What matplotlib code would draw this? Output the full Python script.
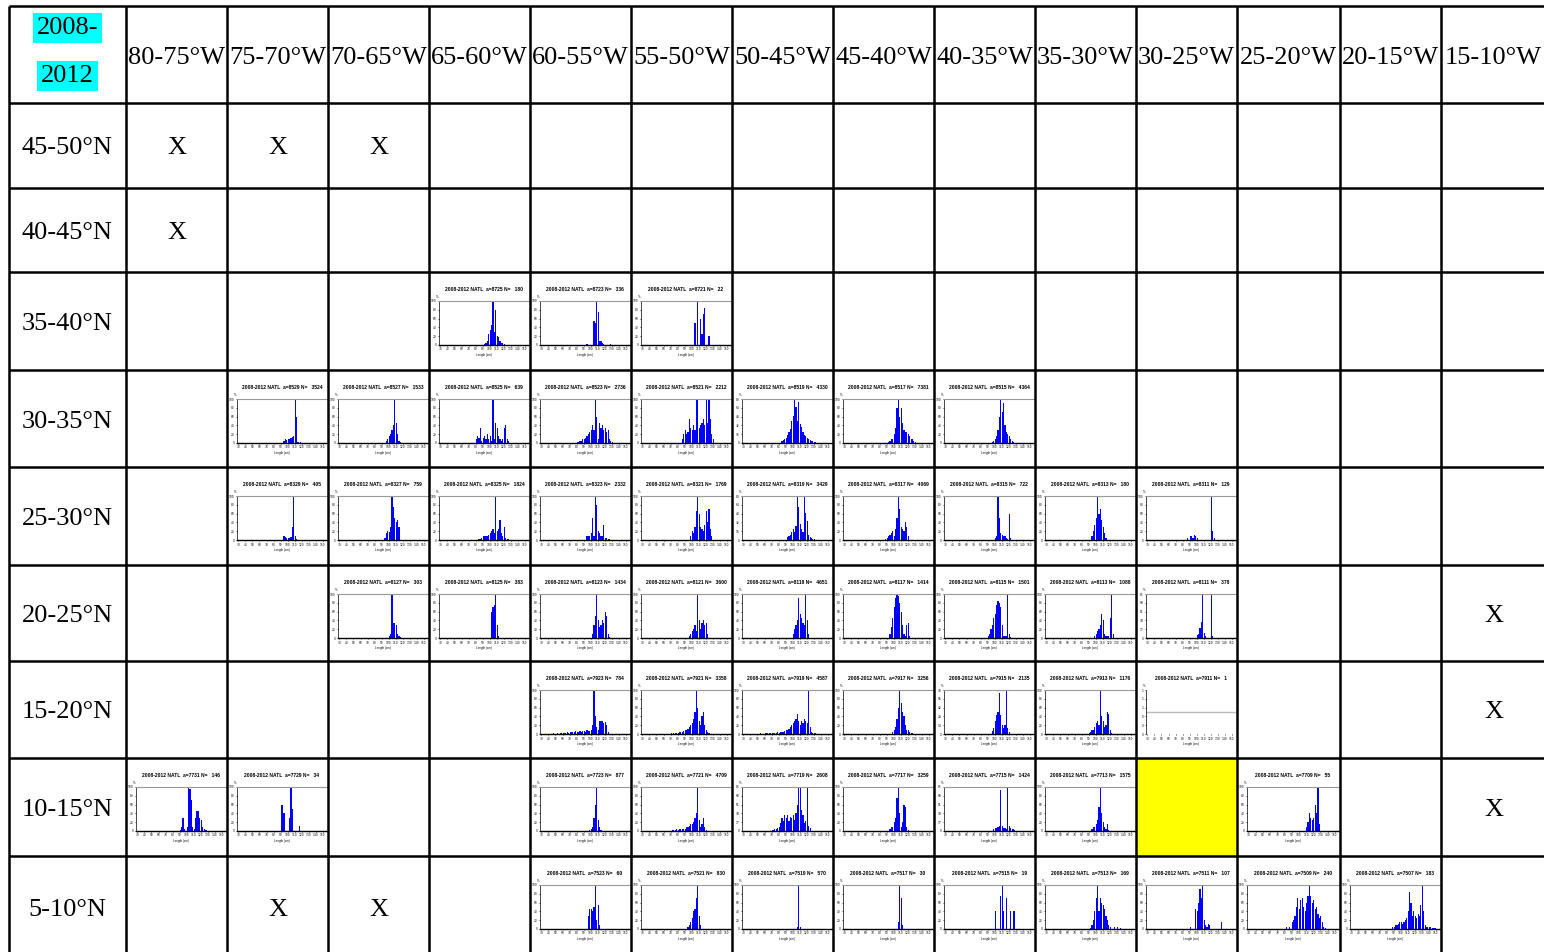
#!/usr/bin/env python3
# -*- coding: utf-8 -*-
"""
Length frequency histograms of the North Atlantic 5x5 degree squares, 2008-2012
"""
import matplotlib

matplotlib.use("Agg")
import matplotlib.pyplot as plt
from matplotlib.patches import Rectangle

W, H = 1544, 952

lon_labels = ["80-75°W", "75-70°W", "70-65°W", "65-60°W", "60-55°W", "55-50°W",
              "50-45°W", "45-40°W", "40-35°W", "35-30°W", "30-25°W", "25-20°W",
              "20-15°W", "15-10°W"]
lat_labels = ["45-50°N", "40-45°N", "35-40°N", "30-35°N", "25-30°N",
              "20-25°N", "15-20°N", "10-15°N", "5-10°N"]

# squares without data ("X") and the highlighted square
x_marks = [("45-50°N", "80-75°W"), ("45-50°N", "75-70°W"), ("45-50°N", "70-65°W"),
           ("40-45°N", "80-75°W"), ("20-25°N", "15-10°W"), ("15-20°N", "15-10°W"),
           ("10-15°N", "15-10°W"), ("5-10°N", "75-70°W"), ("5-10°N", "70-65°W")]
yellow_cells = [("10-15°N", "30-25°W")]

# histograms: lon -> (area code, N, first length class (cm), % per 2 cm class)
hist_35_40 = {
    "65-60°W": (8725, 180, 92, [3, 5, 10, 25, 35, 45, 100, 30, 80, 20, 18, 8, 5, 5, 3]),
    "60-55°W": (8723, 336, 94, [3, 0, 0, 0, 0, 55, 50, 100, 75, 10, 8, 5, 3, 0, 0, 0, 0, 2]),
    "55-50°W": (8721, 22, 104, [50, 0, 100, 0, 60, 25, 70, 85, 0, 0, 20]),
}
hist_30_35 = {
    "75-70°W": (8529, 3524, 94, [5, 8, 7, 9, 10, 12, 14, 15, 100, 60, 3, 0, 2]),
    "70-65°W": (8527, 1533, 96, [5, 10, 15, 20, 30, 40, 100, 45, 20, 5, 2]),
    "65-60°W": (8525, 639, 80, [10, 15, 12, 35, 5, 12, 15, 10, 20, 8, 15, 5, 100, 10, 45,
                                35, 15, 8, 5, 10, 35, 40, 10, 5]),
    "60-55°W": (8523, 2736, 80, [2, 3, 5, 5, 8, 10, 12, 15, 20, 25, 30, 40, 30, 100, 60,
                                 10, 45, 35, 40, 30, 35, 25, 30, 10, 5, 3]),
    "55-50°W": (8521, 2212, 86, [10, 20, 30, 20, 25, 55, 35, 30, 40, 30, 100, 100, 35, 40,
                                 45, 55, 40, 100, 45, 100, 55, 20, 10]),
    "50-45°W": (8519, 4330, 84, [3, 5, 8, 10, 15, 20, 25, 40, 50, 80, 65, 40, 75, 35, 30,
                                 20, 15, 12, 10, 8, 5, 4, 3, 2, 1]),
    "45-40°W": (8517, 7381, 92, [3, 5, 8, 10, 20, 35, 80, 100, 60, 80, 45, 30, 25, 25, 20,
                                 15, 10, 8, 5, 3]),
    "40-35°W": (8515, 4364, 96, [3, 5, 8, 15, 30, 60, 100, 70, 90, 40, 25, 20, 15, 10, 5, 3]),
}
hist_25_30 = {
    "75-70°W": (8329, 405, 94, [8, 6, 5, 5, 4, 6, 30, 100, 10, 3]),
    "70-65°W": (8327, 759, 94, [5, 15, 20, 18, 30, 100, 75, 50, 40, 45, 30]),
    "65-60°W": (8325, 1824, 84, [2, 3, 5, 8, 8, 10, 10, 12, 15, 20, 25, 15, 100, 20, 25,
                                 45, 15, 10, 30, 5, 3, 2]),
    "60-55°W": (8323, 2332, 94, [8, 10, 10, 15, 50, 10, 100, 80, 20, 15, 10, 8, 35, 5, 5, 3, 2]),
    "55-50°W": (8321, 1769, 98, [10, 20, 15, 30, 65, 100, 60, 30, 25, 20, 35, 65, 40, 70, 25, 10]),
    "50-45°W": (8319, 3429, 92, [5, 8, 10, 15, 20, 15, 25, 80, 60, 30, 20, 15, 80, 50, 35,
                                 10, 5, 3, 2, 2]),
    "45-40°W": (8317, 4069, 88, [3, 5, 8, 12, 15, 20, 10, 25, 50, 100, 70, 30, 25, 20, 40, 30, 10]),
    "40-35°W": (8315, 722, 100, [5, 8, 100, 50, 15, 12, 10, 8, 5, 3, 60, 5]),
    "35-30°W": (8313, 180, 94, [10, 20, 35, 50, 100, 60, 70, 45, 30, 15, 5]),
    "30-25°W": (8311, 129, 86, [5, 0, 8, 10, 5, 12, 8, 5, 0, 0, 0, 0, 0, 0, 0, 0, 0, 100, 20, 5]),
}
hist_20_25 = {
    "70-65°W": (8127, 303, 100, [5, 10, 100, 35, 35, 30, 10, 5, 2]),
    "65-60°W": (8125, 383, 102, [60, 70, 75, 100, 30, 5]),
    "60-55°W": (8123, 1434, 102, [10, 30, 50, 100, 40, 25, 30, 40, 35, 60, 50, 10, 3]),
    "55-50°W": (8121, 3600, 96, [5, 10, 15, 20, 30, 15, 100, 40, 20, 35, 40, 30, 35, 10]),
    "50-45°W": (8119, 4651, 100, [10, 20, 30, 40, 90, 55, 45, 35, 30, 100, 40, 10]),
    "45-40°W": (8117, 1414, 94, [10, 25, 45, 70, 90, 100, 95, 80, 60, 30, 10, 5, 30, 35, 5]),
    "40-35°W": (8115, 1501, 90, [5, 10, 20, 30, 45, 55, 75, 85, 80, 70, 30, 5, 5, 5, 100, 10, 3]),
    "35-30°W": (8113, 1088, 98, [5, 10, 15, 20, 30, 55, 40, 10, 5, 5, 5, 45, 100, 8]),
    "30-25°W": (8111, 378, 100, [5, 8, 20, 30, 85, 10, 3, 0, 0, 0, 85, 3]),
}
hist_15_20 = {
    "60-55°W": (7923, 784, 40, [1, 1, 1, 2, 1, 1, 2, 1, 2, 2, 3, 2, 3, 4, 3, 4, 5, 4, 5, 6,
                                4, 5, 6, 5, 7, 6, 5, 8, 6, 7, 10, 20, 100, 40, 15, 10, 30,
                                30, 30, 25, 28, 20, 5]),
    "55-50°W": (7921, 3358, 60, [1, 1, 1, 1, 1, 2, 1, 2, 2, 3, 3, 4, 5, 5, 6, 8, 10, 12, 15,
                                 20, 25, 35, 50, 100, 60, 30, 20, 40, 50, 20, 10, 5, 2]),
    "50-45°W": (7919, 4587, 34, [1, 1, 1, 1, 1, 1, 1, 1, 1, 1, 2, 1, 1, 2, 2, 2, 2, 2, 3, 2,
                                 3, 3, 4, 3, 4, 5, 5, 6, 8, 10, 12, 15, 20, 25, 30, 35, 45,
                                 30, 20, 30, 25, 35, 30, 25, 100, 15, 5, 3, 2, 2, 1]),
    "45-40°W": (7917, 3256, 98, [5, 10, 15, 35, 60, 100, 70, 50, 40, 20, 10, 10, 5, 3, 2, 1, 1]),
    "40-35°W": (7915, 2135, 96, [5, 10, 20, 30, 35, 65, 30, 15, 10, 15, 70, 10, 3]),
    "35-30°W": (7913, 1176, 90, [3, 5, 8, 10, 15, 25, 30, 20, 100, 40, 30, 15, 20, 50, 45, 10, 3]),
    "30-25°W": (7911, 1, 100, []),
}
hist_10_15 = {
    "80-75°W": (7731, 146, 90, [3, 8, 30, 5, 0, 10, 100, 95, 70, 10, 5, 30, 45, 45, 30, 25,
                                10, 5, 3, 3]),
    "75-70°W": (7729, 34, 90, [60, 60, 40, 0, 0, 0, 30, 100, 50, 0, 0, 0, 0, 12]),
    "60-55°W": (7723, 877, 98, [3, 5, 10, 30, 60, 100, 25, 8, 3]),
    "55-50°W": (7721, 4709, 72, [2, 3, 3, 4, 3, 4, 5, 4, 5, 5, 8, 10, 12, 15, 15, 20, 30, 40,
                                 100, 25, 10, 15, 30, 8, 3]),
    "50-45°W": (7719, 2608, 70, [2, 2, 3, 3, 5, 8, 15, 25, 20, 30, 25, 30, 20, 28, 25, 30, 22,
                                 35, 50, 85, 85, 40, 30, 15, 20, 85, 10, 5]),
    "45-40°W": (7717, 3259, 94, [5, 8, 10, 20, 30, 75, 100, 40, 10, 20, 60, 55, 10, 3]),
    "40-35°W": (7715, 1424, 98, [3, 5, 5, 8, 10, 80, 10, 5, 5, 3, 85, 10, 5, 3, 3, 2]),
    "35-30°W": (7713, 1575, 94, [5, 8, 10, 15, 25, 55, 100, 40, 20, 10, 5, 15, 3]),
    "25-20°W": (7709, 55, 110, [10, 20, 40, 30, 25, 30, 60, 40, 100, 15]),
}
hist_5_10 = {
    "60-55°W": (7523, 60, 96, [30, 45, 45, 40, 50, 100, 20, 55, 10]),
    "55-50°W": (7521, 830, 94, [5, 10, 15, 25, 40, 45, 70, 100, 30, 10]),
    "50-45°W": (7519, 570, 106, [5, 100, 5]),
    "45-40°W": (7517, 30, 106, [15, 100, 70, 10]),
    "40-35°W": (7515, 19, 100, [40, 0, 0, 0, 75, 100, 40, 0, 70, 0, 0, 40, 0, 40, 40]),
    "35-30°W": (7513, 169, 92, [3, 10, 20, 40, 70, 100, 40, 70, 60, 55, 45, 30, 20, 10, 5,
                                0, 0, 5, 0, 5, 0, 3]),
    "30-25°W": (7511, 107, 90, [5, 0, 0, 0, 45, 40, 60, 90, 70, 100, 20, 10, 5, 12, 8, 0, 0,
                                0, 0, 0, 0, 0, 15]),
    "25-20°W": (7509, 240, 82, [5, 0, 5, 0, 15, 20, 30, 50, 70, 45, 65, 70, 50, 40, 60, 75,
                                100, 75, 60, 65, 45, 50, 35, 25, 30, 15, 5, 2, 1, 1]),
    "20-15°W": (7507, 183, 88, [5, 5, 8, 10, 12, 15, 15, 12, 15, 20, 25, 40, 85, 60, 30, 40,
                                30, 25, 35, 30, 55, 100, 40, 10, 5, 5, 5, 5, 3, 2, 2, 1]),
}
histograms = {"35-40°N": hist_35_40, "30-35°N": hist_30_35, "25-30°N": hist_25_30,
              "20-25°N": hist_20_25, "15-20°N": hist_15_20, "10-15°N": hist_10_15,
              "5-10°N": hist_5_10}

# table grid in pixels (the right and bottom edges fall outside the picture)
col_edges = [9, 126, 227, 328, 429, 530, 631, 732, 833, 934, 1035, 1136, 1237, 1340, 1441, 1546]
row_edges = [6, 103, 188, 272, 370, 467, 565, 661, 758, 856, 958]

SERIF = "Liberation Serif"
SANS = "Liberation Sans"
TXT_DY = 3  # digits have no descenders, so push the labels down a little


def cell(lat, lon):
    r = lat_labels.index(lat) + 1
    c = lon_labels.index(lon) + 1
    return col_edges[c], col_edges[c + 1], row_edges[r], row_edges[r + 1]


def draw_hist(fig, lat, lon, code, n, start, values):
    x0, x1, y0, y1 = cell(lat, lon)
    ax = fig.add_axes([(x0 + 10) / W, 1 - (y0 + 73) / H, (x1 - x0 - 11) / W, 44 / H])
    lengths = [start + 2 * i for i in range(len(values))]
    ax.bar(lengths, values, width=1.6, align="edge", color="#0000ff", linewidth=0)
    top = max(values) if values else 1
    ax.set_xlim(28, 156)
    ax.set_ylim(0, top)
    ax.set_xticks(range(30, 151, 10))
    ax.set_xticklabels([str(v) for v in range(30, 151, 10)])
    yt = [top * k / 5 for k in range(6)]
    ax.set_yticks(yt)
    ax.set_yticklabels(["%.0f" % v for v in yt])
    ax.tick_params(length=1, width=0.5, pad=0.8, labelsize=2.1)
    ax.spines["right"].set_visible(False)
    ax.spines["top"].set_color("#999999")
    ax.spines["top"].set_linewidth(0.8)
    ax.spines["left"].set_linewidth(0.5)
    ax.spines["bottom"].set_linewidth(1.0)
    if not values:
        # single fish: empty frame with the mid line
        ax.spines["bottom"].set_visible(False)
        ax.spines["top"].set_visible(False)
        ax.axhline(0.5, color="#bbbbbb", lw=1.0)
    ax.set_xlabel("Length (cm)", fontsize=2.1, labelpad=0.8, family=SANS)
    ax.text(-0.03, 1.07, "%", fontsize=2.2, transform=ax.transAxes, family=SANS)
    ax.text(0.5, 1.26, "2008-2012 NATL  a=%d N=   %d" % (code, n), fontsize=3.6,
            weight="bold", transform=ax.transAxes, ha="center", va="center", family=SANS)


def main():
    fig = plt.figure(figsize=(W / 100, H / 100), dpi=100)
    bg = fig.add_axes([0, 0, 1, 1])
    bg.set_xlim(0, W)
    bg.set_ylim(H, 0)
    bg.axis("off")

    # highlighted squares
    for lat, lon in yellow_cells:
        x0, x1, y0, y1 = cell(lat, lon)
        bg.add_patch(Rectangle((x0, y0), x1 - x0, y1 - y0, color="#ffff00", lw=0))

    # header row and first column
    cx = (col_edges[0] + col_edges[1]) / 2
    bg.text(cx, 28, "2008-", fontsize=19, family=SERIF, ha="center", va="center",
            bbox=dict(boxstyle="square,pad=0.14", fc="#00ffff", ec="none"))
    bg.text(cx, 76, "2012", fontsize=19, family=SERIF, ha="center", va="center",
            bbox=dict(boxstyle="square,pad=0.14", fc="#00ffff", ec="none"))
    for i, lon in enumerate(lon_labels):
        x = (col_edges[i + 1] + col_edges[i + 2]) / 2
        bg.text(x, (row_edges[0] + row_edges[1]) / 2 + TXT_DY, lon, fontsize=19,
                family=SERIF, ha="center", va="center")
    for j, lat in enumerate(lat_labels):
        y = (row_edges[j + 1] + row_edges[j + 2]) / 2 + TXT_DY
        bg.text(cx, y, lat, fontsize=19, family=SERIF, ha="center", va="center")

    for lat, lon in x_marks:
        x0, x1, y0, y1 = cell(lat, lon)
        bg.text((x0 + x1) / 2, (y0 + y1) / 2 + TXT_DY, "X", fontsize=19, family=SERIF,
                ha="center", va="center")

    # small histograms
    for lat, row in histograms.items():
        for lon, (code, n, start, values) in row.items():
            draw_hist(fig, lat, lon, code, n, start, values)

    # grid lines on top of everything
    grid = fig.add_axes([0, 0, 1, 1], zorder=10)
    grid.set_xlim(0, W)
    grid.set_ylim(H, 0)
    grid.axis("off")
    grid.vlines(col_edges, row_edges[0], row_edges[-1], color="black", lw=1.8)
    grid.hlines(row_edges, col_edges[0], col_edges[-1], color="black", lw=1.8)

    fig.savefig("out.png", dpi=100)


# ============ MAIN ============
if __name__ == "__main__":
    main()
